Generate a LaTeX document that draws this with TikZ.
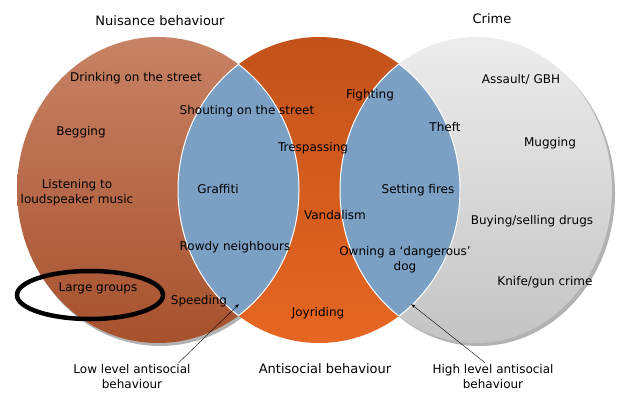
\documentclass[tikz,border=0pt]{standalone}
\usepackage{fontspec}
\setmainfont{DejaVu Sans}
\definecolor{nuitop}{RGB}{199,131,101}
\definecolor{nuibot}{RGB}{167,81,45}
\definecolor{asbtop}{RGB}{194,82,26}
\definecolor{asbbot}{RGB}{230,102,34}
\definecolor{crimetop}{RGB}{236,236,236}
\definecolor{crimebot}{RGB}{196,196,196}
\definecolor{lensblue}{RGB}{123,160,196}
\definecolor{shadowgray}{RGB}{178,178,178}
\tikzset{
  item/.style={font=\fontsize{12}{15}\selectfont, align=center, inner sep=2pt},
  heading/.style={font=\fontsize{13}{16}\selectfont},
  edge/.style={draw=white, line width=1pt}
}

\begin{document}
\begin{tikzpicture}[x=1pt,y=1pt]
\useasboundingbox (0,0) rectangle (617,392);
% Shadows:
\fill[shadowgray] (160,199) ellipse [x radius=141pt, y radius=153pt];
\fill[shadowgray] (479,199) ellipse [x radius=136pt, y radius=153pt];
% Circles:
\shade[top color=nuitop, bottom color=nuibot] (158,202) ellipse [x radius=141pt, y radius=153pt];
\shade[top color=asbtop, bottom color=asbbot] (319,202) ellipse [x radius=141pt, y radius=153pt];
\shade[top color=crimetop, bottom color=crimebot] (476,202) ellipse [x radius=136pt, y radius=153pt];
% Low level lens:
\begin{scope}
\clip (158,202) ellipse [x radius=141pt, y radius=153pt];
\fill[lensblue] (319,202) ellipse [x radius=141pt, y radius=153pt];
\draw[edge] (319,202) ellipse [x radius=141pt, y radius=153pt];
\end{scope}
\begin{scope}
\clip (319,202) ellipse [x radius=141pt, y radius=153pt];
\draw[edge] (158,202) ellipse [x radius=141pt, y radius=153pt];
\end{scope}
% High level lens:
\begin{scope}
\clip (476,202) ellipse [x radius=136pt, y radius=153pt];
\fill[lensblue] (319,202) ellipse [x radius=141pt, y radius=153pt];
\draw[edge] (319,202) ellipse [x radius=141pt, y radius=153pt];
\end{scope}
\begin{scope}
\clip (319,202) ellipse [x radius=141pt, y radius=153pt];
\draw[edge] (476,202) ellipse [x radius=136pt, y radius=153pt];
\end{scope}
% Headings:
\node (Nuis) [heading] at (160,371) {Nuisance behaviour};
\node (Crime) [heading] at (492,373) {Crime};
\node (Asb) [heading] at (325,23) {Antisocial behaviour};
% Nuisance only:
\node (Drink) [item] at (136,314) {Drinking on the street};
\node (Beg) [item] at (81,260) {Begging};
\node (Music) [item] at (77,199) {Listening to\\loudspeaker music};
\node (Groups) [item] at (98,104) {Large groups};
\draw[line width=4.5pt] (90,97) ellipse [x radius=73pt, y radius=24pt];
\node (Speed) [item] at (199,91) {Speeding};
% Low level:
\node (Shout) [item] at (247,281) {Shouting on the street};
\node (Graf) [item] at (218,203) {Graffiti};
\node (Rowdy) [item] at (235,145) {Rowdy neighbours};
% Antisocial only:
\node (Fight) [item] at (370,297) {Fighting};
\node (Tres) [item] at (313,244) {Trespassing};
\node (Vand) [item] at (335,177) {Vandalism};
\node (Joy) [item] at (318,79) {Joyriding};
% High level:
\node (Theft) [item] at (445,265) {Theft};
\node (Fire) [item] at (418,202) {Setting fires};
\node (Dog) [item] at (405,132) {Owning a ‘dangerous’\\dog};
% Crime only:
\node (Gbh) [item] at (521,313) {Assault/ GBH};
\node (Mug) [item] at (550,249) {Mugging};
\node (Drugs) [item] at (532,171) {Buying/selling drugs};
\node (Knife) [item] at (545,110) {Knife/gun crime};
% Pointers:
\coordinate (lowtip) at (239,88);
\coordinate (hightip) at (411,88);
\node (Low) [item] at (132,15) {Low level antisocial\\behaviour};
\node (High) [item] at (493,15) {High level antisocial\\behaviour};
\draw[-latex] ([xshift=-14pt]Low.north east) -- (lowtip);
\draw[-latex] ([xshift=-8pt]High.north) -- (hightip);
\end{tikzpicture}
\end{document}
